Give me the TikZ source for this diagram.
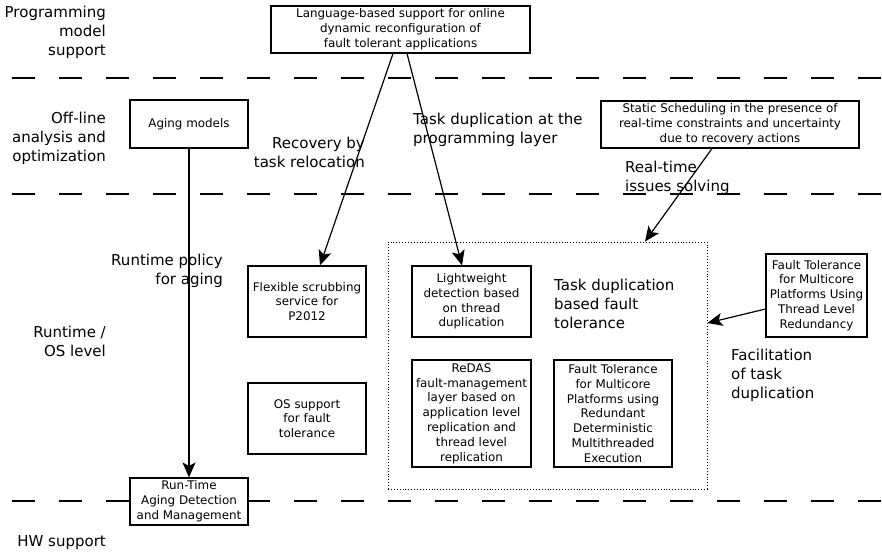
\documentclass[tikz,border=0pt]{standalone}
\usepackage{fontspec}
\setmainfont{DejaVu Sans}
\usetikzlibrary{arrows.meta}
\newcommand\boxfont{\fontsize{11.9}{14.8}\selectfont}
\newcommand\labfont{\fontsize{15}{19}\selectfont}
\begin{document}
\begin{tikzpicture}[x=1pt,y=-1pt,
  layerline/.style={line width=1.2pt, dash pattern=on 23pt off 24pt},
  blk/.style={draw, line width=1.1pt, fill=white, align=center, font=\boxfont, inner sep=0pt},
  group/.style={draw, line width=0.9pt, dotted, inner sep=0pt},
  lab/.style={font=\labfont, inner sep=0pt},
  arr/.style={line width=1.2pt, -{Stealth[length=15pt,width=13pt,inset=3.5pt]}}]
\useasboundingbox (0,0) rectangle (882,555);

% layer separators
\coordinate (l1a) at (12,78);  \coordinate (l1b) at (882,78);
\coordinate (l2a) at (12,194); \coordinate (l2b) at (882,194);
\coordinate (l3a) at (12,501); \coordinate (l3b) at (882,501);
\draw[layerline] (l1a) -- (l1b);
\draw[layerline] (l2a) -- (l2b);
\draw[layerline] (l3a) -- (l3b);

% layer names
\node[lab, anchor=east, align=right] (t1) at (106,32.5) {Programming\\model\\support};
\node[lab, anchor=east, align=right] (t2) at (106,138.5) {Off-line\\analysis and\\optimization};
\node[lab, anchor=east, align=right] (t3) at (106,341) {Runtime /\\OS level};
\node[lab, anchor=east, align=right] (t4) at (106,543) {HW support};

% blocks
\node[blk, minimum width=259pt, minimum height=47pt] (lang) at (400.5,29.5)
  {Language-based support for online\\dynamic reconfiguration of\\fault tolerant applications};
\node[blk, minimum width=118pt, minimum height=48pt] (aging) at (189,124) {Aging models};
\node[blk, minimum width=258pt, minimum height=47pt] (sched) at (730,124.5)
  {Static Scheduling in the presence of\\real-time constraints and uncertainty\\due to recovery actions};
\node[blk, minimum width=118pt, minimum height=71pt] (flex) at (307,301.5)
  {Flexible scrubbing\\service for\\P2012};
\node[blk, minimum width=118pt, minimum height=71pt] (os) at (307,418.5)
  {OS support\\for fault\\tolerance};
\node[blk, minimum width=118pt, minimum height=47pt] (rt) at (189,501.5)
  {Run-Time\\Aging Detection\\and Management};

\node[group, minimum width=319pt, minimum height=247pt] (dup) at (547.5,365.5) {};
\node[blk, minimum width=119pt, minimum height=71pt] (light) at (471.5,301.5)
  {Lightweight\\detection based\\on thread\\duplication};
\node[blk, minimum width=119pt, minimum height=107pt] (redas) at (471.5,413.5)
  {ReDAS\\fault-management\\layer based on\\application level\\replication and\\thread level\\replication};
\node[blk, minimum width=118pt, minimum height=107pt] (ftr) at (613,413.5)
  {Fault Tolerance\\for Multicore\\Platforms using\\Redundant\\Deterministic\\Multithreaded\\Execution};
\node[lab, anchor=west, align=left] (duplab) at (554,303.5)
  {Task duplication\\based fault\\tolerance};

\node[blk, minimum width=101pt, minimum height=83pt] (ftt) at (816.5,295.5)
  {Fault Tolerance\\for Multicore\\Platforms Using\\Thread Level\\Redundancy};

% connectors
\draw[arr] (aging.south) -- (rt.north);
\draw[arr] ([xshift=-7.5pt]lang.south) -- ([xshift=13pt]flex.north);
\draw[arr] ([xshift=6.5pt]lang.south) -- ([xshift=-9.5pt]light.north);
\draw[arr] ([xshift=-18pt]sched.south) -- ([xshift=97.5pt]dup.north);
\draw[arr] ([yshift=-13.5pt]ftt.west) -- ([yshift=42.5pt]dup.east);

% connector labels
\node[lab, anchor=east, align=right] (recl) at (365,152.5) {Recovery by\\task relocation};
\node[lab, anchor=west, align=left] (tdl) at (413,129.5) {Task duplication at the\\programming layer};
\node[lab, anchor=west, align=left] (rtl) at (625,177.5) {Real-time\\issues solving};
\node[lab, anchor=east, align=right] (rpl) at (223,271) {Runtime policy\\for aging};
\node[lab, anchor=west, align=left] (facl) at (731,375.5) {Facilitation\\of task\\duplication};
\end{tikzpicture}
\end{document}
